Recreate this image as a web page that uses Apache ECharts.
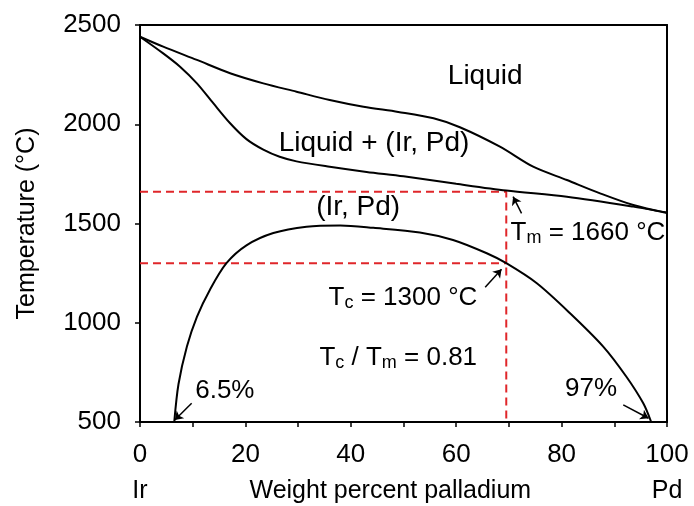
<!DOCTYPE html>
<html><head><meta charset="utf-8">
<script src="https://cdn.jsdelivr.net/npm/echarts@6/dist/echarts.min.js"></script>
<style>html,body{margin:0;padding:0;background:#fff}#c{width:694px;height:506px}</style>
</head><body><div id="c"></div>
<script>
// ---- data ----
const liquidusX = [0, 4.4, 10.8, 17.1, 23.4, 29.7, 36, 42.4, 49, 55.7, 60.7, 68.3, 74.6, 81, 87.3, 93.6, 100];
const liquidusT = [2441, 2391, 2324, 2257, 2206, 2164, 2122, 2088, 2062, 2030, 1985, 1887, 1786, 1719, 1652, 1593, 1553];
const solidusX = [0, 4.4, 7.6, 10.8, 13.9, 17.1, 20.2, 23.4, 26.5, 29.7, 36, 43, 50, 60, 69.5, 81, 93.6, 100];
const solidusT = [2441, 2357, 2290, 2206, 2106, 2005, 1925, 1872, 1836, 1813, 1786, 1760, 1738, 1700, 1666, 1635, 1585, 1555];
const gapX = [6.5, 7.3, 8.9, 10.8, 13.3, 16.4, 20.2, 25.3, 31.6, 38, 44.3, 53.1, 59.4, 65.8, 69.5, 75.3, 81.6, 87.9, 92.3, 95.5, 97];
const gapT = [500, 690, 880, 1030, 1168, 1300, 1390, 1452, 1484, 1490, 1478, 1455, 1417, 1350, 1300, 1199, 1048, 880, 728, 594, 500];
const Tm = 1660, Tc = 1300, xCrit = 69.5;
const xTicks = [0, 20, 40, 60, 80, 100];
const yTicks = [500, 1000, 1500, 2000, 2500];
const regionLabels = [
  {text: 'Liquid', x: 65.5, t: 2243},
  {text: 'Liquid + (Ir, Pd)', x: 44.4, t: 1906},
  {text: '(Ir, Pd)', x: 41.4, t: 1583}
];
const noteLabels = [
  {text: 'T{s|m} = 1660 °C', x: 85, t: 1455},
  {text: 'T{s|c} = 1300 °C', x: 49.9, t: 1128},
  {text: 'T{s|c} / T{s|m} = 0.81', x: 49, t: 825},
  {text: '6.5%', x: 16.1, t: 656},
  {text: '97%', x: 85.6, t: 666}
];
const arrows = [
  [[72.4, 1551], [70.8, 1635]],
  [[65.5, 1179], [68.6, 1269]],
  [[9.8, 594], [6.6, 510]],
  [[91.7, 586], [96.5, 519]]
];
// ---- chart ----
const FONT = '"Liberation Sans", Arial, Helvetica, sans-serif';
const INK = '#000';
const RED = '#e0262a';
const zip = (a, b) => a.map((v, i) => [v, b[i]]);
const chart = echarts.init(document.getElementById('c'), null, {renderer: 'canvas'});
const curve = (d) => ({type: 'line', data: d, smooth: 0.3, symbol: 'none', lineStyle: {color: INK, width: 2}, z: 3, silent: true});
const dashed = (d) => ({type: 'line', data: d, symbol: 'none', lineStyle: {color: RED, width: 2, type: [8, 5]}, z: 2, silent: true});
const textSeries = (arr, size) => ({
  type: 'scatter', symbolSize: 0, z: 5, silent: true,
  itemStyle: {color: INK, opacity: 1},
  data: arr.map(l => ({value: [l.x, l.t], label: {formatter: l.text}})),
  label: {
    show: true, position: [0, 0], align: 'center', verticalAlign: 'middle',
    fontSize: size, color: INK, fontFamily: FONT, lineHeight: 30,
    textBorderWidth: 0, textShadowBlur: 0, opacity: 1,
    rich: {s: {fontSize: 18, lineHeight: 12, verticalAlign: 'bottom', color: INK, fontFamily: FONT}}
  }
});
const option = {
  animation: false,
  textStyle: {fontFamily: FONT},
  grid: {left: 140, right: 27, top: 25, bottom: 84},
  xAxis: [{
    type: 'value', min: 0, max: 100, interval: 10,
    axisLine: {onZero: false, lineStyle: {color: INK, width: 2}},
    axisTick: {show: true, inside: false, length: 5, lineStyle: {color: INK, width: 1.5}},
    axisLabel: {margin: 20, fontSize: 26, color: INK, fontFamily: FONT,
      formatter: v => xTicks.indexOf(v) >= 0 ? String(v) : ''},
    splitLine: {show: false}
  }, {
    type: 'value', min: 0, max: 100, position: 'top',
    axisLine: {show: true, onZero: false, lineStyle: {color: INK, width: 2}},
    axisTick: {show: false}, axisLabel: {show: false}, splitLine: {show: false}
  }],
  yAxis: [{
    type: 'value', min: 500, max: 2500, interval: 500,
    name: 'Temperature (°C)', nameLocation: 'middle', nameGap: 100,
    nameTextStyle: {fontSize: 25, color: INK, fontFamily: FONT},
    axisLine: {show: true, onZero: false, lineStyle: {color: INK, width: 2}},
    axisTick: {show: true, inside: false, length: 5, lineStyle: {color: INK, width: 1.5}},
    axisLabel: {margin: 19, fontSize: 26, color: INK, fontFamily: FONT,
      formatter: v => yTicks.indexOf(v) >= 0 ? String(v) : ''},
    splitLine: {show: false}
  }, {
    type: 'value', min: 500, max: 2500, position: 'right',
    axisLine: {show: true, onZero: false, lineStyle: {color: INK, width: 2}},
    axisTick: {show: false}, axisLabel: {show: false}, splitLine: {show: false}
  }],
  series: [
    curve(zip(liquidusX, liquidusT)),
    curve(zip(solidusX, solidusT)),
    curve(zip(gapX, gapT)),
    dashed([[0, Tm], [xCrit, Tm], [xCrit, 500]]),
    dashed([[0, Tc], [xCrit, Tc]]),
    {
      type: 'lines', coordinateSystem: 'cartesian2d', z: 4,
      symbol: ['none', 'arrow'], symbolSize: 8,
      lineStyle: {color: INK, width: 1.5, opacity: 1},
      data: arrows.map(c => ({coords: c}))
    },
    textSeries(regionLabels, 28),
    textSeries(noteLabels, 26)
  ]
};
chart.setOption(option);
const p0 = chart.convertToPixel({xAxisIndex: 0, yAxisIndex: 0}, [0, 500]);
const p1 = chart.convertToPixel({xAxisIndex: 0, yAxisIndex: 0}, [100, 500]);
const ty = p0[1] + 69;
const txt = (s, x) => ({type: 'text', x: x, y: ty, style: {text: s, fill: INK, font: '25px ' + FONT, align: 'center', verticalAlign: 'middle'}});
chart.setOption({graphic: [
  txt('Ir', p0[0]),
  txt('Pd', p1[0]),
  txt('Weight percent palladium', p0[0] + (p1[0] - p0[0]) * 0.475)
]});
</script>
</body></html>
